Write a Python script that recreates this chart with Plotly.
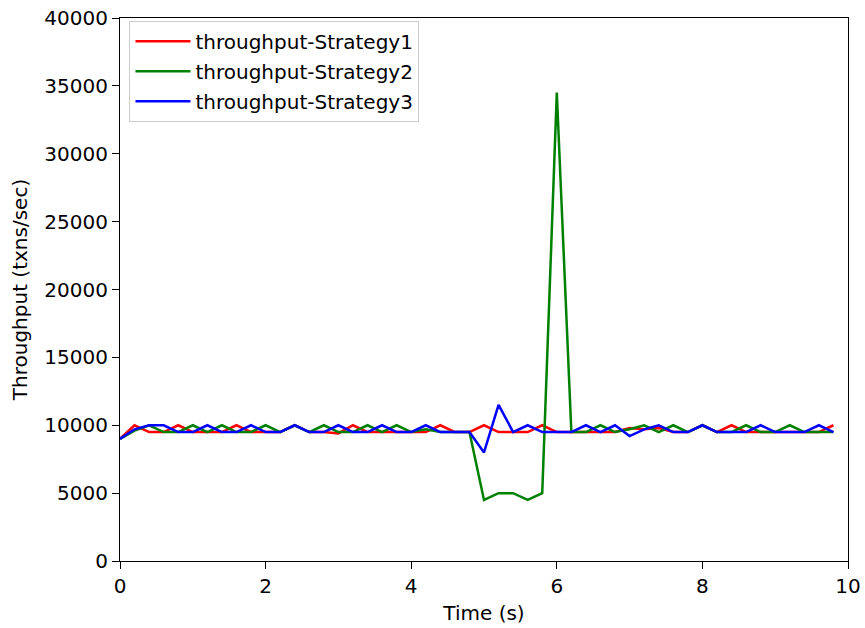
import plotly.graph_objects as go

time_s = [round(0.2 * i, 1) for i in range(50)]

strategy1 = [9000, 10000, 9500, 9500, 10000, 9500, 9500, 9500, 10000, 9500,
             9500, 9500, 10000, 9500, 9500, 9400, 10000, 9500, 9500, 9500,
             9500, 9500, 10000, 9500, 9500, 10000, 9500, 9500, 9500, 10000,
             9500, 9500, 9500, 9500, 9500, 9800, 9700, 9800, 9500, 9500,
             10000, 9500, 10000, 9500, 9500, 9500, 9500, 9500, 9500, 10000]

strategy2 = [9000, 9600, 10000, 9500, 9500, 10000, 9500, 10000, 9500, 9500,
             10000, 9500, 10000, 9500, 10000, 9500, 9500, 10000, 9500, 10000,
             9500, 9700, 9500, 9500, 9500, 4500, 5000, 5000, 4500, 5000,
             34500, 9500, 9500, 10000, 9500, 9700, 10000, 9500, 10000, 9500,
             10000, 9500, 9500, 10000, 9500, 9500, 10000, 9500, 9500, 9500]

strategy3 = [9000, 9700, 10000, 10000, 9500, 9500, 10000, 9500, 9500, 10000,
             9500, 9500, 10000, 9500, 9500, 10000, 9500, 9500, 10000, 9500,
             9500, 10000, 9500, 9500, 9500, 8000, 11500, 9500, 10000, 9500,
             9500, 9500, 10000, 9500, 10000, 9200, 9700, 10000, 9500, 9500,
             10000, 9500, 9500, 9500, 10000, 9500, 9500, 9500, 10000, 9500]

names = ["throughput-Strategy1", "throughput-Strategy2", "throughput-Strategy3"]
colors = ["#ff0000", "#008000", "#0000ff"]
series = [strategy1, strategy2, strategy3]

fig = go.Figure()
for i, (name, col, ys) in enumerate(zip(names, colors, series)):
    fig.add_trace(go.Scatter(x=time_s, y=ys, mode="lines", name=name,
                             legendgroup=f"g{i}",
                             line=dict(color=col, width=2.5)))

font = "DejaVu Sans"
fs = 20
fig.update_layout(
    width=865, height=628,
    margin=dict(l=120, r=17, t=18, b=67),
    plot_bgcolor="white", paper_bgcolor="white",
    font=dict(family=font, size=fs, color="black"),
    showlegend=True,
    legend=dict(x=0.013, y=0.995, xanchor="left", yanchor="top",
                bgcolor="rgba(255,255,255,0.8)", bordercolor="#cccccc",
                borderwidth=1, font=dict(family=font, size=fs),
                tracegroupgap=1, itemwidth=55),
)
fig.update_xaxes(range=[0, 10], dtick=2, tick0=0, showgrid=False, zeroline=False,
                 automargin=False,
                 showline=True, linecolor="black", linewidth=1.2, mirror=True,
                 ticks="outside", ticklen=7, tickwidth=1.2, tickcolor="black",
                 title=dict(text="Time (s)", standoff=8, font=dict(size=fs)),
                 tickfont=dict(size=fs))
fig.update_yaxes(range=[0, 40000], dtick=5000, tick0=0, showgrid=False, zeroline=False,
                 automargin=False,
                 showline=True, linecolor="black", linewidth=1.2, mirror=True,
                 ticks="outside", ticklen=7, tickwidth=1.2, tickcolor="black",
                 tickformat="d",
                 title=dict(text="Throughput (txns/sec)", standoff=11, font=dict(size=fs)),
                 tickfont=dict(size=fs))

fig.write_html("out.html")
